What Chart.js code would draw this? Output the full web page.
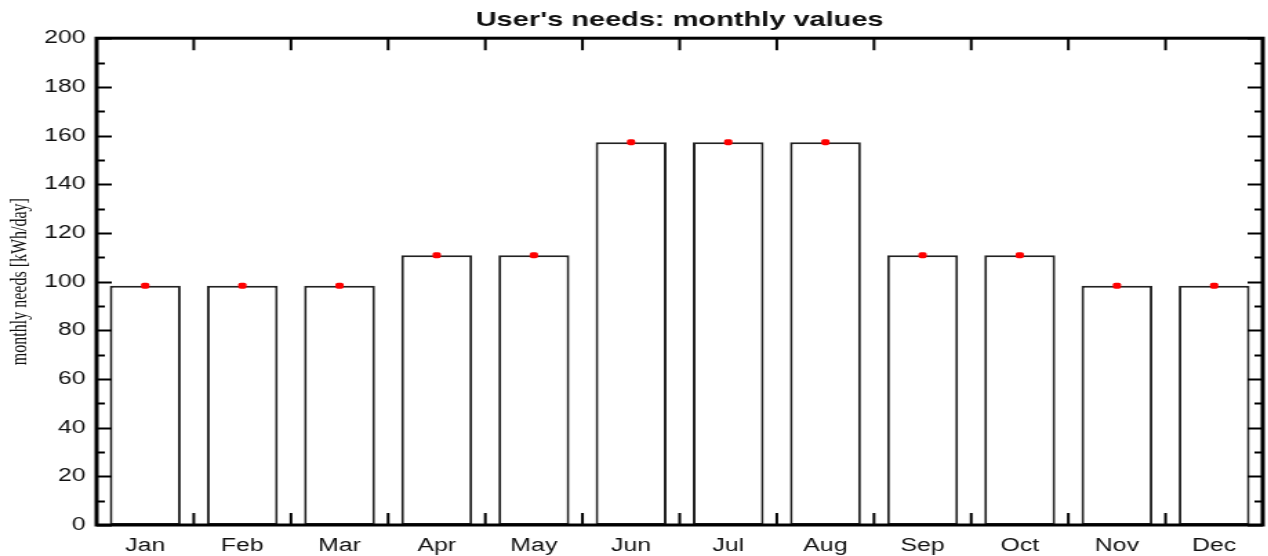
<!DOCTYPE html>
<html>
    <head>
        <title>User's needs</title>
        <script src="https://cdn.jsdelivr.net/npm/chart.js@4.4.0/dist/chart.umd.min.js"></script>
        <style>
            body { margin: 0; background: #fff; }
            #wrap { position: relative; width: 1268px; height: 556px; overflow: hidden; }
            /* the original picture is stretched sideways, so draw narrow and stretch */
            #needsChart { transform: scaleX(1.38); transform-origin: 0 0; }
        </style>
    </head>
    <body>
        <div id="wrap"><canvas id="needsChart" width="919" height="556"></canvas></div>
        <script>
            // monthly values
            var months = ['Jan', 'Feb', 'Mar', 'Apr', 'May', 'Jun', 'Jul', 'Aug', 'Sep', 'Oct', 'Nov', 'Dec'];
            var needs = [98.3, 98.3, 98.3, 110.8, 110.8, 157.3, 157.3, 157.3, 110.8, 110.8, 98.3, 98.3];
            var markers = [98.3, 98.3, 98.3, 110.8, 110.8, 157.3, 157.3, 157.3, 110.8, 110.8, 98.3, 98.3];
            var yMin = 0, yMax = 200, yStep = 20;

            // frame + inward ticks like the original plot
            var framePlugin = {
                id: 'frame',
                afterDatasetsDraw: function(chart) {
                    var ctx = chart.ctx;
                    var a = chart.chartArea;
                    var y = chart.scales.y;
                    var x = chart.scales.x;
                    ctx.save();
                    ctx.strokeStyle = '#000';
                    ctx.lineWidth = 2;
                    ctx.beginPath();
                    for (var v = yMin; v <= yMax; v += yStep / 2) {
                        var py = Math.round(y.getPixelForValue(v)) + 0.5;
                        var len = (v % yStep == 0) ? 11 : 6;
                        ctx.moveTo(a.left, py); ctx.lineTo(a.left + len, py);
                        ctx.moveTo(a.right, py); ctx.lineTo(a.right - len, py);
                    }
                    for (var i = 1; i < months.length; i++) {
                        var px = (x.getPixelForValue(i - 1) + x.getPixelForValue(i)) / 2;
                        ctx.moveTo(px, a.bottom); ctx.lineTo(px, a.bottom - 12);
                        ctx.moveTo(px, a.top); ctx.lineTo(px, a.top + 12);
                    }
                    ctx.stroke();
                    ctx.lineWidth = 3;
                    ctx.strokeRect(a.left, a.top, a.right - a.left, a.bottom - a.top);
                    ctx.restore();
                }
            };

            var ctx = document.getElementById('needsChart').getContext('2d');
            var chart = new Chart(ctx, {
                type: 'bar',
                data: {
                    labels: months,
                    datasets: [{
                        type: 'line',
                        label: 'marker',
                        data: markers,
                        showLine: false,
                        pointStyle: 'rectRounded',
                        pointRadius: 3.5,
                        pointBackgroundColor: '#ff0000',
                        pointBorderColor: '#ff0000',
                        pointBorderWidth: 0,
                        order: 0
                    }, {
                        label: 'monthly needs',
                        data: needs,
                        backgroundColor: '#ffffff',
                        borderColor: '#222222',
                        borderWidth: 2,
                        borderSkipped: false,
                        barPercentage: 0.73,
                        categoryPercentage: 1.0,
                        order: 1
                    }]
                },
                options: {
                    responsive: false,
                    animation: false,
                    layout: { padding: { left: 0, right: 2, top: 0, bottom: 0 } },
                    plugins: {
                        legend: { display: false },
                        tooltip: { enabled: false },
                        title: {
                            display: true,
                            fullSize: false,
                            text: "User's needs: monthly values",
                            color: '#111',
                            font: { family: 'Liberation Sans, Arial, sans-serif', size: 21, weight: 'bold', lineHeight: 1.2 },
                            padding: { top: 8, bottom: 5 }
                        }
                    },
                    scales: {
                        x: {
                            grid: { display: false, drawTicks: false },
                            border: { display: false },
                            ticks: {
                                color: '#111',
                                padding: 10,
                                font: { family: 'Liberation Sans, Arial, sans-serif', size: 18 }
                            },
                            afterFit: function(scale) { scale.height = 31; }
                        },
                        y: {
                            min: yMin,
                            max: yMax,
                            grid: { display: false, drawTicks: false },
                            border: { display: false },
                            ticks: {
                                stepSize: yStep,
                                color: '#111',
                                padding: 8,
                                font: { family: 'Liberation Sans, Arial, sans-serif', size: 18 }
                            },
                            title: {
                                display: true,
                                text: 'monthly needs [kWh/day]',
                                color: '#111',
                                font: { family: 'Liberation Serif, Times New Roman, serif', size: 16 },
                                padding: { top: 5, bottom: 0 }
                            },
                            afterFit: function(scale) { scale.width = 70; }
                        }
                    }
                },
                plugins: [framePlugin]
            });
        </script>
    </body>
</html>
